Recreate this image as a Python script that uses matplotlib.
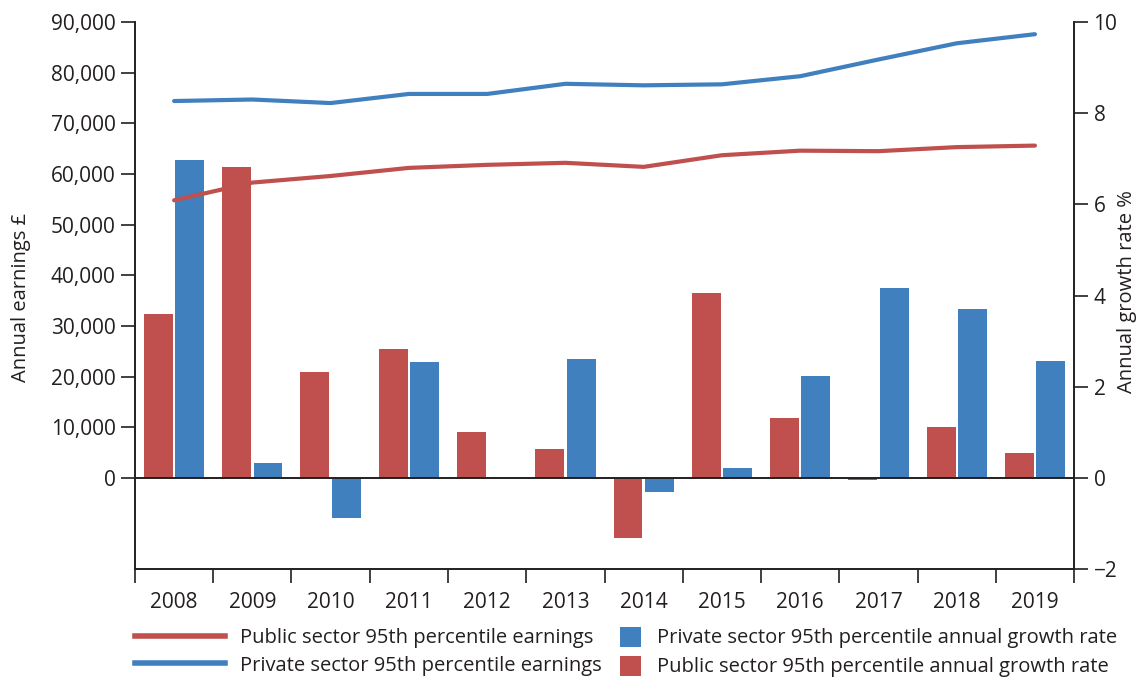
import matplotlib
matplotlib.use("Agg")
import matplotlib.pyplot as plt
from matplotlib.lines import Line2D
from matplotlib.patches import Patch
import numpy as np

plt.rcParams['font.family'] = ['Open Sans', 'DejaVu Sans']

years = ["2008", "2009", "2010", "2011", "2012", "2013",
         "2014", "2015", "2016", "2017", "2018", "2019"]

# Annual earnings at the 95th percentile (GBP)
public_earnings = [54800, 58300, 59600, 61200, 61800, 62200,
                   61400, 63700, 64600, 64500, 65300, 65600]
private_earnings = [74400, 74700, 74000, 75800, 75800, 77800,
                    77500, 77700, 79300, 82600, 85800, 87600]

# Annual growth rates (%)
public_growth = [3.60, 6.83, 2.32, 2.83, 1.01, 0.64,
                 -1.33, 4.06, 1.32, -0.05, 1.12, 0.55]
private_growth = [6.97, 0.33, -0.88, 2.54, 0.0, 2.61,
                  -0.32, 0.22, 2.24, 4.17, 3.71, 2.57]

RED = "#C0504D"
BLUE = "#4180BE"
DARK = "#231F20"

fig = plt.figure(figsize=(11.39, 6.82), dpi=100)
ax = fig.add_axes([0.1185, 0.1657, 0.9430 - 0.1185, 0.9677 - 0.1657])
ax2 = ax.twinx()

x = np.arange(len(years)) + 0.5
bw = 0.37
off = 0.2

ax2.bar(x - off, public_growth, width=bw, color=RED, zorder=2)
ax2.bar(x + off, private_growth, width=bw, color=BLUE, zorder=2)
ax2.axhline(0, color=DARK, lw=1.4, zorder=3)

# Lines drawn on top of the bars
ax.set_zorder(ax2.get_zorder() + 1)
ax.patch.set_visible(False)
ax.plot(x, public_earnings, color=RED, lw=3.0, solid_capstyle='round', zorder=4)
ax.plot(x, private_earnings, color=BLUE, lw=3.0, solid_capstyle='round', zorder=4)

ax.set_xlim(0, len(years))
ax.set_ylim(-18000, 90000)
ax2.set_ylim(-2, 10)

ax.set_yticks(np.arange(0, 90001, 10000))
ax.set_yticklabels([f"{v:,}" for v in range(0, 90001, 10000)])
ax2.set_yticks(np.arange(-2, 11, 2))

ax.set_xticks(np.arange(0, len(years) + 1))
ax.set_xticklabels([])
ax.set_xticks(x, minor=True)
ax.set_xticklabels(years, minor=True)
ax.tick_params(axis='x', which='major', direction='out', length=10, width=1.2, color=DARK)
ax.tick_params(axis='x', which='minor', length=0, pad=16.5, labelsize=15, labelcolor=DARK)
ax.tick_params(axis='y', direction='out', length=10, width=1.2, color=DARK,
               labelsize=15, labelcolor=DARK, pad=4)
ax2.tick_params(axis='y', direction='out', length=10, width=1.2, color=DARK,
                labelsize=15, labelcolor=DARK, pad=4)

for a in (ax, ax2):
    a.spines['top'].set_visible(False)
    for s in ('left', 'right', 'bottom'):
        a.spines[s].set_color(DARK)
        a.spines[s].set_linewidth(1.2)

ax.set_ylabel("Annual earnings £", fontsize=14.5, color=DARK)
ax2.set_ylabel("Annual growth rate %", fontsize=14.5, color=DARK)
for a, xc, yc in ((ax, -0.1214, 0.497), (ax2, 1.0565, 0.508)):
    a.yaxis.label.set_va('center')
    a.yaxis.set_label_coords(xc, yc)

line_handles = [Line2D([0], [0], color=RED, lw=4),
                Line2D([0], [0], color=BLUE, lw=4)]
line_labels = ["Public sector 95th percentile earnings",
               "Private sector 95th percentile earnings"]
bar_handles = [Patch(facecolor=BLUE), Patch(facecolor=RED)]
bar_labels = ["Private sector 95th percentile annual growth rate",
              "Public sector 95th percentile annual growth rate"]

leg_y = 1 - 652 / 682
fig.legend(line_handles, line_labels, loc='center left',
           bbox_to_anchor=(135 / 1139, leg_y), frameon=False,
           fontsize=14.5, handlelength=4.45, handletextpad=0.75,
           labelspacing=0.35, borderpad=0, borderaxespad=0,
           labelcolor=DARK)
fig.legend(bar_handles, bar_labels, loc='center left',
           bbox_to_anchor=(620 / 1139, leg_y), frameon=False,
           fontsize=14.5, handlelength=1.05, handleheight=1.15,
           handletextpad=0.8, labelspacing=0.35, borderpad=0,
           borderaxespad=0, labelcolor=DARK)

fig.savefig("out.png", dpi=100)
